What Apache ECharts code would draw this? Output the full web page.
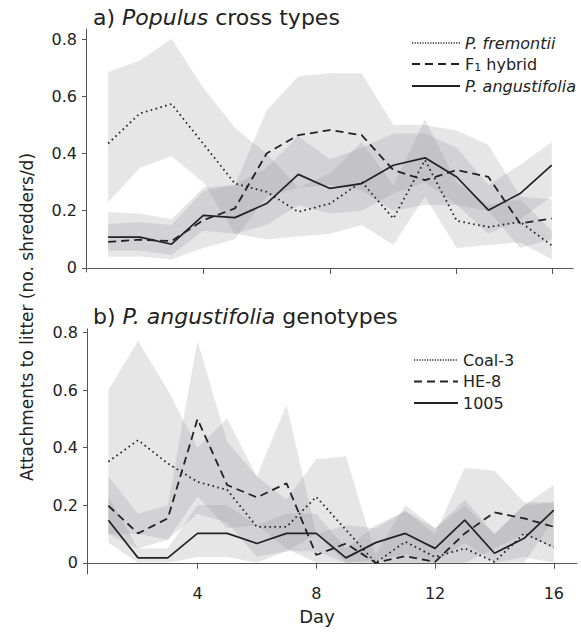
<!DOCTYPE html>
<html>
<head>
<meta charset="utf-8">
<script src="https://cdn.jsdelivr.net/npm/echarts@6/dist/echarts.min.js"></script>
<style>
  html, body { margin: 0; padding: 0; background: #fff; }
  #chart { width: 581px; height: 632px; }
</style>
</head>
<body>
<div id="chart"></div>
<script>
// a) Populus cross types -- 15 sampling slots (the last one is marked 16 on the axis)
const topSlots = [1, 2, 3, 4, 5, 6, 7, 8, 9, 10, 11, 12, 13, 14, 15];
const topTicks = [4, 8, 12, 15];
const fremontii   = [0.435, 0.54, 0.573, 0.434, 0.295, 0.266, 0.196, 0.225, 0.301, 0.173, 0.377, 0.165, 0.143, 0.161, 0.079];
const fremontiiLo = [0.23, 0.35, 0.39, 0.30, 0.12, 0.10, 0.11, 0.12, 0.15, 0.08, 0.25, 0.07, 0.08, 0.09, 0.03];
const fremontiiHi = [0.685, 0.725, 0.80, 0.63, 0.49, 0.40, 0.28, 0.33, 0.44, 0.29, 0.52, 0.30, 0.22, 0.24, 0.13];
const hybrid      = [0.091, 0.099, 0.094, 0.167, 0.208, 0.40, 0.464, 0.482, 0.464, 0.342, 0.307, 0.342, 0.318, 0.156, 0.173];
const hybridLo    = [0.04, 0.04, 0.03, 0.07, 0.10, 0.25, 0.28, 0.29, 0.27, 0.20, 0.22, 0.22, 0.20, 0.07, 0.10];
const hybridHi    = [0.155, 0.16, 0.15, 0.27, 0.29, 0.55, 0.67, 0.68, 0.68, 0.50, 0.50, 0.48, 0.43, 0.25, 0.24];
const angusti     = [0.108, 0.108, 0.083, 0.184, 0.176, 0.225, 0.327, 0.278, 0.295, 0.359, 0.385, 0.318, 0.202, 0.26, 0.359];
const angustiLo   = [0.06, 0.06, 0.045, 0.13, 0.12, 0.15, 0.22, 0.19, 0.20, 0.26, 0.30, 0.22, 0.12, 0.17, 0.25];
const angustiHi   = [0.196, 0.19, 0.17, 0.28, 0.29, 0.35, 0.46, 0.38, 0.42, 0.47, 0.47, 0.42, 0.29, 0.36, 0.44];

// b) P. angustifolia genotypes -- days 1..16
const days = [1, 2, 3, 4, 5, 6, 7, 8, 9, 10, 11, 12, 13, 14, 15, 16];
const dayTicks = [4, 8, 12, 16];
const coal3   = [0.351, 0.426, 0.345, 0.281, 0.253, 0.125, 0.125, 0.229, 0.114, 0, 0.073, 0.02, 0.05, 0.003, 0.102, 0.054];
const coal3Lo = [0.10, 0.10, 0.08, 0.17, 0.14, 0.02, 0.04, 0.10, 0.0, 0.0, 0.0, 0.0, 0.0, 0.0, 0.02, 0.0];
const coal3Hi = [0.60, 0.77, 0.60, 0.40, 0.50, 0.30, 0.22, 0.36, 0.37, 0.03, 0.20, 0.12, 0.20, 0.10, 0.20, 0.27];
const he8     = [0.198, 0.102, 0.154, 0.499, 0.27, 0.227, 0.276, 0.027, 0.067, 0, 0.023, 0.003, 0.102, 0.175, 0.154, 0.125];
const he8Lo   = [0.10, 0.05, 0.08, 0.23, 0.12, 0.13, 0.05, 0.0, 0.0, 0.0, 0.0, 0.0, 0.0, 0.05, 0.10, 0.05];
const he8Hi   = [0.30, 0.17, 0.20, 0.77, 0.42, 0.30, 0.55, 0.10, 0.13, 0.12, 0.18, 0.10, 0.33, 0.32, 0.21, 0.21];
const g1005   = [0.148, 0.017, 0.017, 0.102, 0.102, 0.067, 0.102, 0.102, 0.017, 0.07, 0.102, 0.05, 0.148, 0.033, 0.085, 0.183];
const g1005Lo = [0.07, 0.0, 0.0, 0.02, 0.02, 0.0, 0.04, 0.04, 0.0, 0.01, 0.03, 0.0, 0.07, 0.0, 0.0, 0.15];
const g1005Hi = [0.23, 0.05, 0.05, 0.20, 0.20, 0.13, 0.17, 0.17, 0.05, 0.13, 0.18, 0.12, 0.22, 0.10, 0.20, 0.21];

const yTicks = [0, 0.2, 0.4, 0.6, 0.8];

const FONT = '"DejaVu Sans", sans-serif';
const INK = '#222';
const AXIS = '#555';
const BAND = 'rgba(140, 142, 146, 0.22)';

const DOTTED = [1.6, 3.4];
const DASHED = [8, 5];

// shaded band drawn as one polygon: upper edge forward, lower edge back
function band(xs, lo, hi, idx) {
  return {
    type: 'custom',
    xAxisIndex: idx,
    yAxisIndex: idx,
    silent: true,
    z: 1,
    data: [[xs[0], lo[0]]],
    renderItem: function (params, api) {
      const pts = [];
      for (let i = 0; i < xs.length; i++) pts.push(api.coord([xs[i], hi[i]]));
      for (let i = xs.length - 1; i >= 0; i--) pts.push(api.coord([xs[i], lo[i]]));
      return { type: 'polygon', shape: { points: pts }, style: { fill: BAND } };
    }
  };
}

function line(name, xs, ys, dash, idx) {
  return {
    name: name,
    type: 'line',
    xAxisIndex: idx,
    yAxisIndex: idx,
    data: xs.map((x, i) => [x, ys[i]]),
    symbol: 'none',
    silent: true,
    z: 3,
    lineStyle: { color: INK, width: dash === 'solid' ? 1.7 : 1.8, type: dash }
  };
}

function xAxis(idx, min, max, ticks, showLabels) {
  return {
    type: 'value',
    gridIndex: idx,
    min: min,
    max: max,
    splitLine: { show: false },
    axisLine: { lineStyle: { color: AXIS, width: 1 } },
    axisTick: { length: 6, lineStyle: { color: AXIS }, customValues: ticks },
    axisLabel: { show: showLabels, customValues: ticks, margin: 11, fontSize: 16, fontFamily: FONT, color: INK },
    name: showLabels ? 'Day' : '',
    nameLocation: 'middle',
    nameGap: 33,
    nameTextStyle: { fontSize: 18, fontFamily: FONT, color: INK, padding: [0, 30, 0, 0] }
  };
}

function yAxis(idx, min, max) {
  return {
    type: 'value',
    gridIndex: idx,
    min: min,
    max: max,
    splitLine: { show: false },
    axisLine: { show: true, lineStyle: { color: AXIS, width: 1 } },
    axisTick: { show: true, length: 4, lineStyle: { color: AXIS }, customValues: yTicks },
    axisLabel: { customValues: yTicks, margin: 9, fontSize: 16, fontFamily: FONT, color: INK }
  };
}

const legendText = {
  fontSize: 16,
  fontFamily: FONT,
  color: INK,
  rich: {
    i: { fontSize: 16, fontFamily: FONT, fontStyle: 'italic', color: INK },
    n: { fontSize: 16, fontFamily: FONT, color: INK },
    sub: { fontSize: 11, fontFamily: FONT, color: INK, padding: [7, 0, 0, 0] }
  }
};

function legendLabel(name) {
  if (name === 'F1 hybrid') return '{n|F}{sub|1}{n| hybrid}';
  if (name.indexOf('P.') === 0) return '{i|' + name + '}';
  return name;
}

const titleText = {
  fontSize: 22,
  fontWeight: 'normal',
  fontFamily: FONT,
  color: INK,
  rich: {
    i: { fontSize: 22, fontFamily: FONT, fontStyle: 'italic', color: INK },
    n: { fontSize: 22, fontFamily: FONT, color: INK }
  }
};

const option = {
  backgroundColor: '#fff',
  animation: false,
  title: [
    { text: '{n|a) }{i|Populus}{n| cross types}', left: 93, top: 6, padding: 0, textStyle: titleText },
    { text: '{n|b) }{i|P. angustifolia}{n| genotypes}', left: 93, top: 305, padding: 0, textStyle: titleText }
  ],
  legend: [
    {
      orient: 'vertical', left: 411, top: 35, padding: 0,
      itemWidth: 48, itemHeight: 14, itemGap: 5,
      itemStyle: { opacity: 0 },
      textStyle: legendText,
      formatter: legendLabel,
      data: [
        { name: 'P. fremontii', lineStyle: { type: [1.2, 1.4], width: 1.3 } },
        { name: 'F1 hybrid' },
        { name: 'P. angustifolia' }
      ]
    },
    {
      orient: 'vertical', left: 413, top: 352, padding: 0,
      itemWidth: 44, itemHeight: 14, itemGap: 5.5,
      itemStyle: { opacity: 0 },
      textStyle: legendText,
      formatter: legendLabel,
      data: [
        { name: 'Coal-3', lineStyle: { type: [1.2, 1.4], width: 1.3 } },
        { name: 'HE-8' },
        { name: '1005' }
      ]
    }
  ],
  grid: [
    { left: 86, right: 8, top: 29, height: 243 },
    { left: 87, right: 4, top: 329, height: 245 }
  ],
  xAxis: [
    xAxis(0, 0.3, 15.67, topTicks, false),
    xAxis(1, 0.28, 16.78, dayTicks, true)
  ],
  yAxis: [
    yAxis(0, -0.014, 0.835),
    yAxis(1, -0.039, 0.812)
  ],
  graphic: [
    {
      type: 'text', x: 27, y: 317, rotation: Math.PI / 2,
      style: {
        text: 'Attachments to litter (no. shredders/d)',
        fontSize: 17, fontFamily: FONT, fill: INK,
        align: 'center', verticalAlign: 'middle'
      }
    }
  ],
  series: [
    band(topSlots, fremontiiLo, fremontiiHi, 0),
    band(topSlots, hybridLo, hybridHi, 0),
    band(topSlots, angustiLo, angustiHi, 0),
    line('P. fremontii', topSlots, fremontii, DOTTED, 0),
    line('F1 hybrid', topSlots, hybrid, DASHED, 0),
    line('P. angustifolia', topSlots, angusti, 'solid', 0),

    band(days, coal3Lo, coal3Hi, 1),
    band(days, he8Lo, he8Hi, 1),
    band(days, g1005Lo, g1005Hi, 1),
    line('Coal-3', days, coal3, DOTTED, 1),
    line('HE-8', days, he8, DASHED, 1),
    line('1005', days, g1005, 'solid', 1)
  ]
};

const chart = echarts.init(document.getElementById('chart'), null, { renderer: 'svg' });
chart.setOption(option);
</script>
</body>
</html>
